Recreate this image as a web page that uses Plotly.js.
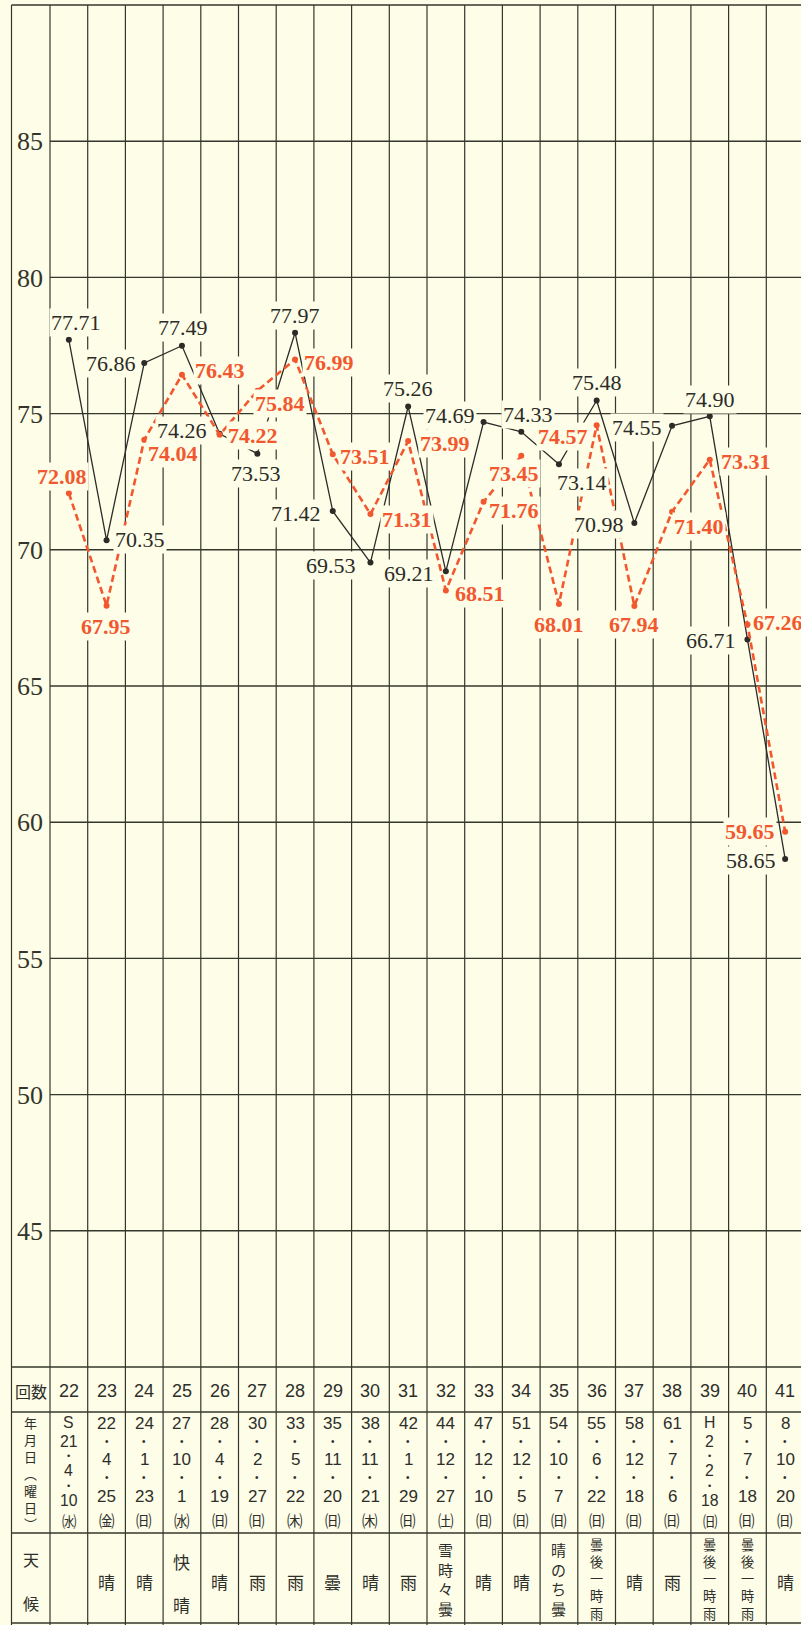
<!DOCTYPE html>
<html>
<head>
<meta charset="utf-8">
<script src="https://cdn.plot.ly/plotly-3.0.1.min.js"></script>
<style>
  html, body { margin: 0; padding: 0; background: #FDFDE8; }
  #chart { width: 801px; height: 1625px; }
</style>
</head>
<body>
<div id="chart"></div>
<script>
// ---------------- data ----------------
const electionNo = [22, 23, 24, 25, 26, 27, 28, 29, 30, 31, 32, 33, 34, 35, 36, 37, 38, 39, 40, 41];
const blackTurnout = [77.71, 70.35, 76.86, 77.49, 74.26, 73.53, 77.97, 71.42, 69.53, 75.26,
                      69.21, 74.69, 74.33, 73.14, 75.48, 70.98, 74.55, 74.90, 66.71, 58.65];
const orangeTurnout = [72.08, 67.95, 74.04, 76.43, 74.22, 75.84, 76.99, 73.51, 71.31, 73.99,
                       68.51, 71.76, 73.45, 68.01, 74.57, 67.94, 71.40, 73.31, 67.26, 59.65];
const yTicks = [45, 50, 55, 60, 65, 70, 75, 80, 85];
const yTickText = ["45", "50", "55", "60", "65", "70", "75", "80", "85"];
const dateYear = [["S", "21"], ["22"], ["24"], ["27"], ["28"], ["30"], ["33"], ["35"], ["38"], ["42"],
                  ["44"], ["47"], ["51"], ["54"], ["55"], ["58"], ["61"], ["H", "2"], ["5"], ["8"]];
const dateMonth = ["4", "4", "1", "10", "4", "2", "5", "11", "11", "1", "12", "12", "12", "10", "6", "12", "7", "2", "7", "10"];
const dateDay = ["10", "25", "23", "1", "19", "27", "22", "20", "21", "29", "27", "10", "5", "7", "22", "18", "6", "18", "18", "20"];
const weekday = ["水", "金", "日", "水", "日", "日", "木", "日", "木", "日", "土", "日", "日", "日", "日", "日", "日", "日", "日", "日"];
const weather = ["", "晴", "晴", "快晴", "晴", "雨", "雨", "曇", "晴", "雨", "雪時々曇", "晴", "晴", "晴のち曇",
                 "曇後一時雨", "晴", "雨", "曇後一時雨", "曇後一時雨", "晴"];
const rowLabelCount = "回数";
const rowLabelDate = ["年", "月", "日", "︵", "曜", "日", "︶"];
const rowLabelWeather = ["天", "候"];

// ---------------- label placement (pixel offsets, styling only) ----------------
const blackLabelShift = [[7, 17], [33, 1], [-33, -1], [1, 18], [-38, 3], [-1, -20], [0, 17], [-37, -2], [-39, -3], [0, 18],
                         [-37, -2], [-34, 7], [7, 17], [23, -18], [0, 18], [-35, -1], [-35, -2], [0, 17], [-36, -1], [-34, -2]];
const orangeLabelShift = [[-7, 17], [-1, -21], [29, -14], [38, 4], [33, -1], [23, -13], [34, -3], [32, -2], [37, -5], [37, -2],
                          [34, -3], [30, -9], [-7, -18], [0, -20], [-34, -11], [0, -19], [27, -15], [36, -2], [31, 2], [-35, 0]];

// ---------------- geometry ----------------
const W = 801, H = 1625;
const colLeftPx = 50, colW = 37.7, leftBorderPx = 11.5;
const plotTopPx = 5, plotBottomPx = 1367;
const tableLinesPx = [1367, 1412, 1533, 1623];
const pxToX = px => (px - colLeftPx) / colW - 0.5;
const pyToPaper = py => (H - py) / H;

const BG = "#FDFDE8";
const INK = "#34372c";
const TXT = "#2e2e2a";
const ORANGE = "#F2582F";
const xs = electionNo.map((_, i) => i);
const xRight = pxToX(W) + 2;
const xLeftBorder = pxToX(leftBorderPx);
const xLabelCol = pxToX((leftBorderPx + colLeftPx) / 2);

// ---------------- shapes ----------------
const shapes = [];
const gridLine = { color: INK, width: 1.2 };
const vxs = [xLeftBorder].concat(xs.map(i => i - 0.5)).concat([19.5]);
vxs.forEach(x => shapes.push({ type: "line", layer: "below", xref: "x", yref: "paper",
  x0: x, x1: x, y0: 0, y1: pyToPaper(plotTopPx), line: gridLine }));
yTicks.forEach(v => shapes.push({ type: "line", layer: "below", xref: "x", yref: "y",
  x0: -0.5, x1: xRight, y0: v, y1: v, line: { color: INK, width: 1.4 } }));
[plotTopPx].concat(tableLinesPx).forEach(py => shapes.push({ type: "line", layer: "below", xref: "x", yref: "paper",
  x0: xLeftBorder, x1: xRight, y0: pyToPaper(py), y1: pyToPaper(py), line: { color: INK, width: 1.4 } }));

// ---------------- annotations ----------------
const annotations = [];
const serif = "Liberation Serif, DejaVu Serif, serif";
const sans = "Liberation Sans, Arial, sans-serif";
const cjk = "Noto Sans CJK JP, sans-serif";
const blackFont = { family: serif, size: 22, color: "#2b2b27" };
const orangeFont = { family: serif, size: 22, color: ORANGE, weight: "bold" };
function valueLabel(i, v, shift, font) {
  return { xref: "x", yref: "y", x: i, y: v, text: v.toFixed(2), showarrow: false,
    xanchor: "center", yanchor: "middle", xshift: shift[0], yshift: shift[1],
    font: font, bgcolor: BG, borderpad: 1 };
}
blackTurnout.forEach((v, i) => annotations.push(valueLabel(i, v, blackLabelShift[i], blackFont)));
orangeTurnout.forEach((v, i) => annotations.push(valueLabel(i, v, orangeLabelShift[i], orangeFont)));

function cell(x, py, text, font) {
  return { xref: "x", yref: "paper", x: x, y: pyToPaper(py), text: text, showarrow: false,
    xanchor: "center", yanchor: "middle", font: font };
}
// row: 回数
annotations.push(cell(xLabelCol, 1390.5, rowLabelCount, { family: cjk, size: 16, color: TXT }));
electionNo.forEach((n, i) => annotations.push(cell(i, 1390.5, String(n), { family: sans, size: 18, color: TXT })));

// row: 年月日(曜日)  (one stacked text)
annotations.push(cell(xLabelCol, 1472.5, rowLabelDate.join("<br>"), { family: cjk, size: 13, color: TXT }));

// date cells: stack the pieces vertically inside the row
const wdSym = { "日": "㈰", "月": "㈪", "火": "㈫", "水": "㈬", "木": "㈭", "金": "㈮", "土": "㈯" };
const rowTop = 1412, rowBottom = 1533, rowPad = 2;
xs.forEach(i => {
  const items = dateYear[i].map(t => ({ t, k: "d" }))
    .concat([{ t: "•", k: "o" }, { t: dateMonth[i], k: "d" }, { t: "•", k: "o" }, { t: dateDay[i], k: "d" }, { t: wdSym[weekday[i]], k: "w" }]);
  const base = { d: [17, 1.117, sans], o: [10, 1.117, sans], w: [15.5, 1.448, cjk] };
  let sizes = items.map(it => base[it.k][0]);
  let heights = items.map((it, k) => sizes[k] * base[it.k][1]);
  const avail = rowBottom - rowTop - 2 * rowPad;
  let sum = heights.reduce((a, b) => a + b, 0);
  let gap = (avail - sum) / (items.length - 1);
  if (gap < 0.8) {
    const s = (avail - 0.8 * (items.length - 1)) / sum;
    sizes = sizes.map(z => z * s); heights = heights.map(h => h * s); gap = 0.8;
  }
  let y = rowTop + rowPad;
  items.forEach((it, k) => {
    annotations.push(cell(i, y + heights[k] / 2, it.t, { family: base[it.k][2], size: sizes[k], color: TXT }));
    y += heights[k] + gap;
  });
});

// row: 天候
annotations.push(cell(xLabelCol, 1559, rowLabelWeather[0], { family: cjk, size: 16, color: TXT }));
annotations.push(cell(xLabelCol, 1603, rowLabelWeather[1], { family: cjk, size: 16, color: TXT }));
weather.forEach((w, i) => {
  const chars = Array.from(w);
  if (!chars.length) return;
  if (chars.length === 1) {
    annotations.push(cell(i, 1581, chars[0], { family: cjk, size: 17, color: TXT }));
  } else if (chars.length === 2) {
    annotations.push(cell(i, 1561, chars[0], { family: cjk, size: 17, color: TXT }));
    annotations.push(cell(i, 1604, chars[1], { family: cjk, size: 17, color: TXT }));
  } else {
    const size = chars.length === 4 ? 15 : 13.2;
    annotations.push(cell(i, 1579, chars.join("<br>"), { family: cjk, size: size, color: TXT }));
  }
});

// ---------------- traces ----------------
const traces = [
  { type: "scatter", mode: "lines+markers", x: xs, y: blackTurnout, name: "black",
    line: { color: "#2b2b27", width: 1.3 }, marker: { color: "#2b2b27", size: 6 }, cliponaxis: false, hoverinfo: "skip" },
  { type: "scatter", mode: "lines+markers", x: xs, y: orangeTurnout, name: "orange",
    line: { color: ORANGE, width: 2.6, dash: "7px,4px" }, marker: { color: ORANGE, size: 6 }, cliponaxis: false, hoverinfo: "skip" }
];

const layout = {
  width: W, height: H,
  margin: { l: 0, r: 0, t: 0, b: 0, pad: 0 },
  paper_bgcolor: BG, plot_bgcolor: BG,
  showlegend: false,
  xaxis: { domain: [0, 1], range: [pxToX(0), pxToX(W)], showgrid: false, zeroline: false,
           showticklabels: false, showline: false, ticks: "", fixedrange: true },
  yaxis: { domain: [pyToPaper(plotBottomPx), pyToPaper(plotTopPx)], range: [40, 90],
           anchor: "free", position: colLeftPx / W, side: "left",
           showgrid: false, zeroline: false, showline: false, ticks: "",
           tickmode: "array", tickvals: yTicks, ticktext: yTickText, ticklabelstandoff: 7,
           tickfont: { family: serif, size: 26, color: "#33352c" },
           fixedrange: true },
  shapes: shapes,
  annotations: annotations
};

Plotly.newPlot("chart", traces, layout, { displayModeBar: false, staticPlot: true });
</script>
</body>
</html>
